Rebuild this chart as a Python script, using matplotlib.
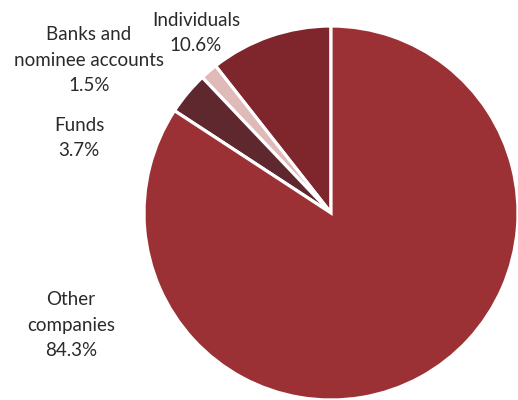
import matplotlib
matplotlib.use("Agg")
import matplotlib.pyplot as plt

# holder categories, counterclockwise from the top
categories = ["Individuals", "Banks and\nnominee accounts", "Funds", "Other\ncompanies"]
shares = [10.6, 1.5, 3.7, 84.3]
colors = ["#7f252c", "#e0b9b9", "#5f272e", "#9b3134"]

# label anchors in pixel coords (x, y from top)
label_pos = [(196, 33), (89, 60), (79, 138), (71, 325)]

W, H = 518, 400
plt.rcParams["font.family"] = ["Lato", "DejaVu Sans"]

fig = plt.figure(figsize=(W / 100, H / 100), dpi=100)
ax = fig.add_axes([0, 0, 1, 1])

ax.pie(shares, colors=colors, startangle=90, counterclock=True,
       center=(331, H - 213), radius=187, frame=True,
       wedgeprops=dict(edgecolor="white", linewidth=2.3))
ax.set_xlim(0, W)
ax.set_ylim(0, H)
ax.set_aspect("equal")
ax.axis("off")

for name, val, (x, y) in zip(categories, shares, label_pos):
    ax.text(x, H - y, f"{name}\n{val}%", ha="center", va="center",
            fontsize=13.5, color="#2a2a2a", linespacing=1.62)

fig.savefig("out.png", dpi=100)
